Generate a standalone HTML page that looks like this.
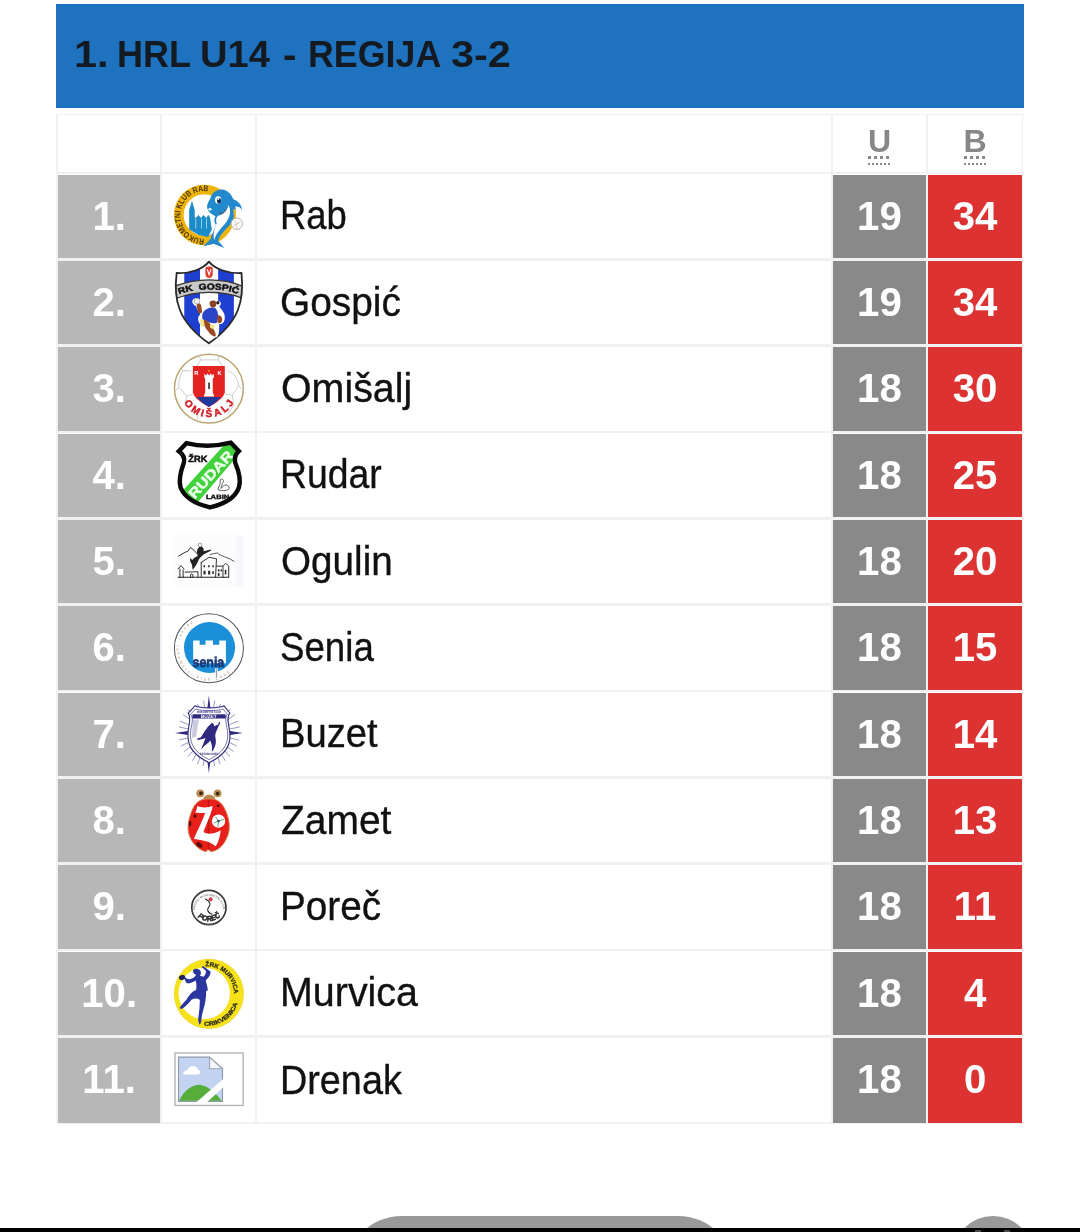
<!DOCTYPE html>
<html lang="hr"><head><meta charset="utf-8"><title>1. HRL U14 - REGIJA 3-2</title>
<style>
*{box-sizing:border-box}
html,body{margin:0;padding:0}
body{width:1080px;height:1232px;position:relative;overflow:hidden;background:#fff;font-family:"Liberation Sans",sans-serif;}
.abs{position:absolute}
#hdr{left:56.1px;top:4.3px;width:967.8px;height:103.7px;background:#1f72bd}
#title{left:0;top:34.4px;font-size:37.3px;font-weight:bold;color:#141a22;white-space:nowrap;line-height:40px}
#title span{position:absolute;top:0;left:0;transform-origin:0 50%;display:block}
.vl{position:absolute;top:113.7px;width:1.8px;height:1010.4px;background:#f1f1f4}
.hl{position:absolute;left:56.5px;width:967px;height:2.9px;background:#f1f1f4}
.rk{position:absolute;left:58px;width:102.3px;background:#b7b7b7;color:#fff;font-weight:bold;font-size:40.2px;text-align:center}
.u{position:absolute;left:833px;width:92.8px;background:#898989;color:#fff;font-weight:bold;font-size:40.2px;text-align:center}
.b{position:absolute;left:928.15px;width:93.9px;background:#dc3232;color:#fff;font-weight:bold;font-size:40.2px;text-align:center}
.nm{position:absolute;left:281px;font-size:40.5px;margin-top:-0.1px;color:#111;-webkit-text-stroke:0.35px #111;white-space:nowrap;transform-origin:0 50%}
.t{display:inline-block;transform-origin:50% 50%}
.lg{position:absolute;left:160px;overflow:hidden}
.lg text{font-family:"Liberation Sans",sans-serif;font-weight:bold;text-rendering:geometricPrecision}
.th{position:absolute;top:123.2px;height:36px;line-height:36px;font-weight:bold;font-size:32.1px;color:#878787;text-align:center}
.th abbr{text-decoration:none}
.d1{position:absolute;top:156.3px;height:3.2px;background:repeating-linear-gradient(90deg,#8b8b8b 0,#8b8b8b 2.8px,transparent 2.8px,transparent 6.1px)}
.d2{position:absolute;top:163px;height:2.4px;background:repeating-linear-gradient(90deg,#8b8b8b 0,#8b8b8b 2.1px,transparent 2.1px,transparent 4.05px)}
</style></head>
<body>
<div id="hdr" class="abs"></div>
<div id="title" class="abs"><span style="left:73.73px;transform:scaleX(1.1103)">1.</span> <span style="left:116.83px;transform:scaleX(0.9663)">HRL</span> <span style="left:200.32px;transform:scaleX(1.0207)">U14</span> <span style="left:282.52px;transform:scaleX(1.0862)">-</span> <span style="left:308.04px;transform:scaleX(0.9594)">REGIJA</span> <span style="left:451.29px;transform:scaleX(1.1090)">3-2</span> </div>
<div class="vl" style="left:56.3px"></div>
<div class="vl" style="left:160.3px"></div>
<div class="vl" style="left:255.3px"></div>
<div class="vl" style="left:831.3px"></div>
<div class="vl" style="left:926.3px"></div>
<div class="vl" style="left:1021.6px"></div>
<div class="hl" style="top:113.7px;height:1.6px"></div>
<div class="hl" style="top:171.60px"></div>
<div class="hl" style="top:257.93px"></div>
<div class="hl" style="top:344.26px"></div>
<div class="hl" style="top:430.59px"></div>
<div class="hl" style="top:516.92px"></div>
<div class="hl" style="top:603.25px"></div>
<div class="hl" style="top:689.58px"></div>
<div class="hl" style="top:775.91px"></div>
<div class="hl" style="top:862.24px"></div>
<div class="hl" style="top:948.57px"></div>
<div class="hl" style="top:1034.90px"></div>
<div class="hl" style="top:1122.40px;height:1.7px"></div>
<div class="th" style="left:833px;width:93px"><abbr title="Utakmice" class="ab">U</abbr></div>
<div class="th" style="left:928px;width:94px"><abbr title="Bodovi" class="ab">B</abbr></div>
<div class="d1" style="left:868px;width:21.3px"></div><div class="d2" style="left:868px;width:22.4px"></div>
<div class="d1" style="left:964px;width:21.3px"></div><div class="d2" style="left:964px;width:22.4px"></div>
<div class="rk" style="top:174.55px;height:83.5px;line-height:83.5px"><span class="t">1.</span></div>
<svg class="lg" style="top:174px" width="100" height="86" viewBox="0 0 1080 929"><circle cx="478" cy="443" r="275" fill="none" stroke="#efb40a" stroke-width="104"/>
<path id="rabp" d="M478 700 A257 257 0 1 1 478.1 700" fill="none"/>
<text font-size="90" fill="#4a3508"><textPath href="#rabp" startOffset="0" textLength="850" lengthAdjust="spacingAndGlyphs">RUKOMETNI KLUB RAB</textPath></text>
<path d="M315 600 L315 390 L345 290 L375 390 L375 470 L395 470 L415 440 L435 470 L450 470 L470 440 L492 470 L505 470 L520 440 L540 470 L560 600 L520 680 L420 660 Z" fill="#1b8cc8"/>
<path d="M383 480h8v110h-8zM443 480h8v110h-8zM497 480h8v110h-8z" fill="#bfe6f7"/>
<path d="M512 372 C500 330 528 292 545 262 C560 195 625 152 695 172 C745 186 775 228 792 272 C842 288 882 330 886 388 C862 352 836 346 814 352 C828 425 800 505 742 565 C692 618 645 662 628 722 L694 800 L578 754 L468 780 L546 702 C556 650 580 600 600 545 C585 520 580 490 600 455 C570 440 525 420 512 372 Z" fill="#2289cc"/>
<path d="M742 335 C772 410 752 480 702 538 C652 596 606 642 588 712 C566 650 590 585 612 535 C600 500 606 470 628 452 C680 440 722 400 742 335Z" fill="#fff"/>
<path d="M560 640 C575 600 590 570 600 545" fill="none" stroke="#fff" stroke-width="14"/>
<ellipse cx="628" cy="280" rx="34" ry="40" fill="#fff"/><ellipse cx="638" cy="288" rx="22" ry="30" fill="#0c2f4e"/>
<ellipse cx="632" cy="272" rx="9" ry="9" fill="#fff"/>
<ellipse cx="540" cy="382" rx="18" ry="14" fill="#e8f6ff"/>
<path d="M640 420 C670 435 700 420 715 380" fill="none" stroke="#7a2a2a" stroke-width="8"/>
<path d="M800 380 C815 440 810 470 800 500" fill="none" stroke="#efb40a" stroke-width="22"/>
<circle cx="830" cy="537" r="62" fill="#fdfdfd" stroke="#b8b0a0" stroke-width="10"/>
<path d="M800 500 L830 537 L870 520 M830 537 L825 590 M790 560 L830 537" fill="none" stroke="#c9c2b4" stroke-width="9"/>
</svg>
<div class="nm" style="top:174.55px;height:83.5px;line-height:83.5px;left:280.32px;transform:scaleX(0.8990)">Rab</div>
<div class="u" style="top:174.55px;height:83.5px;line-height:83.5px"><span class="t">19</span></div>
<div class="b" style="top:174.55px;height:83.5px;line-height:83.5px"><span class="t">34</span></div>
<div class="rk" style="top:260.88px;height:83.5px;line-height:83.5px"><span class="t">2.</span></div>
<svg class="lg" style="top:260px" width="100" height="86" viewBox="0 0 1080 929"><defs><clipPath id="gsc"><path d="M528 18 C470 95 330 150 180 140 C160 300 165 420 215 540 C270 680 400 810 528 900 C656 810 786 680 841 540 C891 420 896 300 880 140 C730 150 590 95 528 18 Z"/></clipPath></defs>
<path d="M528 18 C470 95 330 150 180 140 C160 300 165 420 215 540 C270 680 400 810 528 900 C656 810 786 680 841 540 C891 420 896 300 880 140 C730 150 590 95 528 18 Z" fill="#fff"/>
<g clip-path="url(#gsc)">
<rect x="262" y="0" width="170" height="929" fill="#1f3fd0"/>
<rect x="628" y="0" width="170" height="929" fill="#1f3fd0"/>
<path d="M150 285 C300 230 420 215 530 215 C650 215 780 235 910 290 L910 420 C780 365 650 350 530 350 C420 350 300 365 150 425 Z" fill="#c9c9c9" stroke="#333" stroke-width="14"/>
</g>
<path d="M528 18 C470 95 330 150 180 140 C160 300 165 420 215 540 C270 680 400 810 528 900 C656 810 786 680 841 540 C891 420 896 300 880 140 C730 150 590 95 528 18 Z" fill="none" stroke="#2b2b2b" stroke-width="20" stroke-linejoin="round"/>
<path id="gsp" d="M200 372 C320 325 430 318 530 318 C640 318 760 330 870 378" fill="none"/>
<text font-size="92" fill="#111" stroke="#111" stroke-width="5"><textPath href="#gsp" startOffset="5" textLength="650" lengthAdjust="spacingAndGlyphs">RK&#160;&#160;GOSPIĆ</textPath></text>
<path d="M490 95 Q490 70 530 70 Q570 70 570 95 L570 150 Q565 190 530 195 Q495 190 490 150Z" fill="#e03a2e"/>
<path d="M510 100 L530 160 L550 100" fill="none" stroke="#fff" stroke-width="12"/>
<path d="M350 440 C360 400 430 400 440 440 C450 470 440 500 460 520 C500 510 520 500 540 470 C540 430 600 420 620 440 C660 440 670 480 640 500 C660 540 700 560 700 620 C700 680 660 700 640 690 C640 740 640 790 620 830 C590 850 540 830 520 790 C480 760 440 740 430 690 C400 650 410 600 440 590 C420 560 400 540 390 500 C370 490 345 470 350 440Z" fill="#fff"/>
<path d="M470 560 C500 520 560 500 600 520 C630 560 640 620 610 680 C570 690 500 670 460 640 C450 610 455 585 470 560Z" fill="#2b45c8"/>
<path d="M395 490 C400 460 440 460 445 495 L455 560 C450 580 420 585 410 565Z" fill="#9a4a22"/>
<path d="M535 460 C540 435 590 430 605 455 C615 490 600 515 570 515 C545 510 535 490 535 460Z" fill="#8a4522"/>
<circle cx="625" cy="462" r="18" fill="#222"/>
<path d="M620 600 C650 590 680 620 670 660 C660 690 630 690 620 670Z" fill="#9a4a22"/>
<path d="M470 650 C500 640 540 680 560 720 C590 760 610 800 600 825 C570 830 540 800 520 770 C490 740 470 700 470 650Z" fill="#9a4a22"/>
<path d="M435 640 C460 630 480 660 480 700 C470 730 445 725 435 700Z" fill="#f2e48a"/>
<path d="M540 700 C560 690 590 700 590 730 C575 750 550 745 540 725Z" fill="#f2e48a"/>
<circle cx="400" cy="445" r="30" fill="#f4f4f4" stroke="#999" stroke-width="8"/>
</svg>
<div class="nm" style="top:260.88px;height:83.5px;line-height:83.5px;left:279.82px;transform:scaleX(0.9590)">Gospić</div>
<div class="u" style="top:260.88px;height:83.5px;line-height:83.5px"><span class="t">19</span></div>
<div class="b" style="top:260.88px;height:83.5px;line-height:83.5px"><span class="t">34</span></div>
<div class="rk" style="top:347.21px;height:83.5px;line-height:83.5px"><span class="t">3.</span></div>
<svg class="lg" style="top:346px" width="100" height="86" viewBox="0 0 1080 929"><circle cx="528" cy="460" r="372" fill="#fff" stroke="#b9a56f" stroke-width="16"/>
<g fill="none" stroke="#c8c8c8" stroke-width="10">
<path d="M440 150 L630 150 L690 250 M440 150 L375 250"/>
<path d="M250 260 C210 330 195 400 205 450 L290 540 L360 520"/>
<path d="M240 265 L340 270"/>
<path d="M730 265 C810 290 850 380 850 430 L780 530 L700 520"/>
<path d="M850 430 L895 480 M205 450 L165 480"/>
<path d="M290 540 L275 620 M780 530 L800 640 L740 720 M410 800 L400 740"/>
<path d="M640 100 L630 150 M440 150 L420 100"/>
</g>
<path d="M355 215 L700 215 L700 500 C690 560 600 620 528 658 C455 620 365 560 355 500 Z" fill="#e32222"/>
<path d="M398 552 L658 552 C620 600 570 635 528 658 C485 635 435 600 398 552 Z" fill="#1f3a9c"/>
<path d="M478 340 L478 300 L498 320 L512 295 L530 318 L548 295 L562 320 L582 300 L582 340 L570 355 L570 500 L585 545 L472 545 L488 500 L488 355 Z" fill="#fff"/>
<rect x="520" y="395" width="20" height="70" fill="#444"/>
<text x="370" y="312" font-size="62" fill="#fff">R</text>
<text x="622" y="312" font-size="62" fill="#fff">K</text>
<circle cx="528" cy="268" r="9" fill="#f3c020"/>
<path id="omp" d="M218 460 A310 310 0 0 0 838 460" fill="none"/>
<text font-size="108" fill="#d51f2a" stroke="#d51f2a" stroke-width="5" text-anchor="middle"><textPath href="#omp" startOffset="50%" textLength="655" lengthAdjust="spacing">OMIŠALJ</textPath></text>
</svg>
<div class="nm" style="top:347.21px;height:83.5px;line-height:83.5px;left:280.80px;transform:scaleX(0.9719)">Omišalj</div>
<div class="u" style="top:347.21px;height:83.5px;line-height:83.5px"><span class="t">18</span></div>
<div class="b" style="top:347.21px;height:83.5px;line-height:83.5px"><span class="t">30</span></div>
<div class="rk" style="top:433.54px;height:83.5px;line-height:83.5px"><span class="t">4.</span></div>
<svg class="lg" style="top:432px" width="100" height="86" viewBox="0 0 1080 929"><defs><clipPath id="rdc"><path d="M285 120 Q520 178 765 115 L852 207 Q795 260 812 330 C850 420 878 520 852 600 C810 720 680 782 540 814 C400 782 270 720 222 600 C198 520 225 420 258 330 Q275 260 203 207 Z"/></clipPath></defs>
<path d="M285 120 Q520 178 765 115 L852 207 Q795 260 812 330 C850 420 878 520 852 600 C810 720 680 782 540 814 C400 782 270 720 222 600 C198 520 225 420 258 330 Q275 260 203 207 Z" fill="#fff"/>
<g clip-path="url(#rdc)">
<path d="M720 110 L860 230 L390 780 L230 650 Z" fill="#3fd03a"/>
<text transform="translate(372 728) rotate(-47.5) scale(1.17 1)" font-size="150" fill="#eaffe8" stroke="#eaffe8" stroke-width="5">RUDAR</text>
</g>
<path d="M285 120 Q520 178 765 115 L852 207 Q795 260 812 330 C850 420 878 520 852 600 C810 720 680 782 540 814 C400 782 270 720 222 600 C198 520 225 420 258 330 Q275 260 203 207 Z" fill="none" stroke="#0a0a0a" stroke-width="48" stroke-linejoin="miter"/>
<text transform="translate(306 326) scale(1.02 1)" font-size="98" fill="#111" stroke="#111" stroke-width="5">ŽRK</text>
<text transform="translate(496 719) scale(1.22 1)" font-size="68" fill="#111" stroke="#111" stroke-width="4">LABIN</text>
<path d="M650 520 C655 500 690 505 685 535 C670 570 655 590 660 610 C690 560 740 560 750 610 C720 640 650 640 625 620 C635 580 660 560 650 520Z" fill="none" stroke="#555" stroke-width="10"/>
</svg>
<div class="nm" style="top:433.54px;height:83.5px;line-height:83.5px;left:280.15px;transform:scaleX(0.9219)">Rudar</div>
<div class="u" style="top:433.54px;height:83.5px;line-height:83.5px"><span class="t">18</span></div>
<div class="b" style="top:433.54px;height:83.5px;line-height:83.5px"><span class="t">25</span></div>
<div class="rk" style="top:519.87px;height:83.5px;line-height:83.5px"><span class="t">5.</span></div>
<svg class="lg" style="top:518px" width="100" height="86" viewBox="0 0 1080 929"><rect x="150" y="180" width="750" height="570" fill="#fcfcfd"/>
<rect x="815" y="190" width="85" height="550" fill="#f8f8fc"/>
<g fill="none" stroke="#222" stroke-width="10" stroke-linejoin="round" stroke-linecap="round">
<path d="M200 412 L270 370 L300 360 L330 318 L370 350 L400 385"/>
<path d="M540 395 L580 385 L620 378 L650 400 L700 420 L760 445 L800 468" stroke-width="8"/>
<path d="M195 640 L740 640" stroke-width="12"/>
<path d="M195 550 L225 515 L260 550 M215 550 L215 640 M250 560 L250 640"/>
<path d="M270 585 L410 580 L410 640 M330 640 L330 610 Q345 595 355 615 L355 640"/>
<path d="M445 480 L445 640 M445 480 L530 425 L610 440 L600 640"/>
<path d="M610 520 L680 520 L680 640 M680 520 L710 490 L742 520 L742 640"/>
</g>
<g fill="#222">
<rect x="470" y="510" width="16" height="22"/><rect x="520" y="510" width="16" height="22"/><rect x="565" y="510" width="16" height="22"/>
<rect x="470" y="570" width="22" height="40"/><rect x="520" y="570" width="22" height="40"/><rect x="565" y="575" width="16" height="30"/>
<rect x="625" y="555" width="18" height="22"/><rect x="655" y="555" width="14" height="22"/><rect x="625" y="595" width="18" height="30"/><rect x="700" y="560" width="16" height="50"/>
<path d="M430 310 C460 300 480 330 470 360 L548 340 L552 352 L470 395 C440 420 420 440 410 470 C395 510 370 540 352 560 L345 500 C330 480 322 460 325 435 L350 455 C360 430 390 420 408 410 C395 370 395 330 430 310Z"/>
</g>
<circle cx="432" cy="292" r="20" fill="#fff" stroke="#333" stroke-width="5"/>
</svg>
<div class="nm" style="top:519.87px;height:83.5px;line-height:83.5px;left:280.82px;transform:scaleX(0.9545)">Ogulin</div>
<div class="u" style="top:519.87px;height:83.5px;line-height:83.5px"><span class="t">18</span></div>
<div class="b" style="top:519.87px;height:83.5px;line-height:83.5px"><span class="t">20</span></div>
<div class="rk" style="top:606.20px;height:83.5px;line-height:83.5px"><span class="t">6.</span></div>
<svg class="lg" style="top:604px" width="100" height="86" viewBox="0 0 1080 929"><circle cx="528" cy="478" r="373" fill="#fff" stroke="#4e5660" stroke-width="11"/>
<path id="snp" d="M340 186 A348 348 0 1 0 850 610" fill="none"/>
<text font-size="42" fill="#a98468" style="font-weight:normal"><textPath href="#snp" startOffset="0" textLength="1180" lengthAdjust="spacing">ženski rukometni klub 2005.</textPath></text>
<circle cx="535" cy="470" r="276" fill="#1b8fd8"/>
<path d="M358 395 L428 395 L428 440 L492 440 L492 395 L572 395 L572 440 L640 440 L640 395 L712 395 L712 640 L358 640 Z" fill="#fcfeff"/>
<text transform="translate(352 682) scale(0.88 1)" font-size="152" fill="#1d3a78" stroke="#1d3a78" stroke-width="8">senia</text>
<rect x="600" y="700" width="22" height="100" fill="#9aa0a8" stroke="#fff" stroke-width="8"/>
</svg>
<div class="nm" style="top:606.20px;height:83.5px;line-height:83.5px;left:280.13px;transform:scaleX(0.9057)">Senia</div>
<div class="u" style="top:606.20px;height:83.5px;line-height:83.5px"><span class="t">18</span></div>
<div class="b" style="top:606.20px;height:83.5px;line-height:83.5px"><span class="t">15</span></div>
<div class="rk" style="top:692.53px;height:83.5px;line-height:83.5px"><span class="t">7.</span></div>
<svg class="lg" style="top:690px" width="100" height="86" viewBox="0 0 1080 929"><g stroke="#2f2a80" stroke-linecap="butt">
<g stroke-width="7" opacity="0.75">
<path d="M528 465 L405 150 M528 465 L470 115 M528 465 L592 115 M528 465 L655 150"/>
<path d="M528 465 L250 265 M528 465 L215 335 M528 465 L205 400 M528 465 L810 265 M528 465 L845 335 M528 465 L860 400"/>
<path d="M528 465 L205 540 M528 465 L225 605 M528 465 L260 665 M528 465 L300 720 M528 465 L350 765 M528 465 L405 800 M528 465 L465 820"/>
<path d="M528 465 L850 540 M528 465 L830 605 M528 465 L795 665 M528 465 L755 720 M528 465 L705 765 M528 465 L650 800 M528 465 L590 820"/>
<path d="M528 465 L300 205 M528 465 L760 205"/>
</g>
</g>
<path d="M528 60 L545 200 L511 200Z M528 900 L545 760 L511 760Z M160 465 L320 440 L320 490Z M895 465 L740 440 L740 490Z" fill="#2f2a80"/>
<path d="M380 170 C430 200 630 200 690 170 L755 250 C720 290 735 340 745 400 C790 600 700 700 530 785 C360 700 270 600 310 400 C320 340 335 290 305 250 Z" fill="#fff" stroke="#2f2a80" stroke-width="12"/>
<path d="M385 205 C440 228 620 228 680 205 L728 262 C700 300 712 345 722 400 C760 585 680 675 530 752 C380 675 300 585 338 400 C348 345 360 300 330 262 Z" fill="none" stroke="#2f2a80" stroke-width="7"/>
<path d="M352 262 L708 262 L712 308 L348 308 Z" fill="#2f2a80"/>
<text x="440" y="303" font-size="50" fill="#fff" textLength="172" lengthAdjust="spacingAndGlyphs">BUZET</text>
<text x="400" y="245" font-size="34" fill="#2f2a80" textLength="260" lengthAdjust="spacingAndGlyphs">RUKOMETNI KLUB</text>
<path d="M540 365 C560 340 590 350 590 380 L625 365 C620 345 640 330 655 345 C660 365 650 380 640 390 L620 440 C600 470 600 500 610 540 C615 590 590 640 570 670 L550 665 C560 620 555 590 540 560 C520 590 480 600 460 640 L435 650 C450 600 470 560 480 530 C450 540 420 550 400 545 C390 520 410 505 430 510 C460 480 470 440 500 410 C510 390 525 380 540 365Z" fill="#2f2a80" stroke="#fff" stroke-width="14" paint-order="normal"/>
<text x="432" y="700" font-size="34" fill="#2f2a80" textLength="200" lengthAdjust="spacingAndGlyphs">ESTABLISHED</text>
<path d="M355 320 L420 320 L390 500 L345 520Z" fill="#2f2a80" opacity="0.25"/>
</svg>
<div class="nm" style="top:692.53px;height:83.5px;line-height:83.5px;left:280.09px;transform:scaleX(0.9426)">Buzet</div>
<div class="u" style="top:692.53px;height:83.5px;line-height:83.5px"><span class="t">18</span></div>
<div class="b" style="top:692.53px;height:83.5px;line-height:83.5px"><span class="t">14</span></div>
<div class="rk" style="top:778.86px;height:83.5px;line-height:83.5px"><span class="t">8.</span></div>
<svg class="lg" style="top:776px" width="100" height="86" viewBox="0 0 1080 929"><path d="M465 255 C470 185 590 185 600 255 Z" fill="#b88a4c"/>
<circle cx="435" cy="187" r="42" fill="#b88a4c"/><circle cx="622" cy="187" r="42" fill="#b88a4c"/>
<circle cx="443" cy="187" r="20" fill="#3a2a14"/><circle cx="622" cy="190" r="20" fill="#3a2a14"/>
<path d="M528 248 C420 240 370 300 335 400 C290 520 290 620 350 710 C400 780 470 820 500 815 L520 790 L545 815 C590 820 660 780 700 710 C765 610 760 500 715 390 C680 300 630 240 528 248 Z" fill="#e8201c" stroke="#c98a50" stroke-width="10"/>
<path d="M522 260 L522 800" stroke="#a01010" stroke-width="8" fill="none"/>
<g fill="#5a0c0c">
<circle cx="378" cy="432" r="18"/><ellipse cx="325" cy="515" rx="14" ry="32"/><circle cx="628" cy="322" r="15"/><ellipse cx="425" cy="745" rx="38" ry="24" transform="rotate(35 425 745)"/>
</g>
<path d="M400 325 C440 345 520 345 568 325 C560 400 500 520 470 605 C520 640 600 620 655 585 C650 650 630 720 600 760 C540 700 430 690 365 680 C400 600 460 480 488 400 C450 400 410 400 380 395 C395 370 400 350 400 325 Z" fill="#fdfdfd"/>
<circle cx="632" cy="487" r="72" fill="#fff"/>
<path d="M632 487 L600 440 M632 487 L690 470 M632 487 L625 550 M632 487 L580 510" stroke="#4a8a80" stroke-width="9" fill="none"/>
<circle cx="632" cy="487" r="14" fill="#2a5a55"/>
</svg>
<div class="nm" style="top:778.86px;height:83.5px;line-height:83.5px;left:280.81px;transform:scaleX(0.9616)">Zamet</div>
<div class="u" style="top:778.86px;height:83.5px;line-height:83.5px"><span class="t">18</span></div>
<div class="b" style="top:778.86px;height:83.5px;line-height:83.5px"><span class="t">13</span></div>
<div class="rk" style="top:865.19px;height:83.5px;line-height:83.5px"><span class="t">9.</span></div>
<svg class="lg" style="top:862px" width="100" height="86" viewBox="0 0 1080 929"><circle cx="528" cy="492" r="185" fill="#fff" stroke="#3a3a3c" stroke-width="18"/>
<path id="pop" d="M378 520 A152 152 0 0 1 682 520" fill="none"/>
<text font-size="34" fill="#8a8a8a"><textPath href="#pop" startOffset="0" textLength="470" lengthAdjust="spacingAndGlyphs">ŽENSKI RUKOMETNI KLUB</textPath></text>
<circle cx="547" cy="402" r="22" fill="#d8404a"/>
<path d="M490 400 C515 410 535 430 540 450 C545 480 510 490 515 520 C520 545 545 560 560 565" fill="none" stroke="#222" stroke-width="11" stroke-linecap="round"/>
<path id="pop2" d="M400 592 Q525 690 662 585" fill="none"/>
<text font-size="80" fill="#222" stroke="#222" stroke-width="5" font-style="italic"><textPath href="#pop2" startOffset="8" textLength="270" lengthAdjust="spacingAndGlyphs">POREČ</textPath></text>
<path d="M490 672 L570 672" stroke="#555" stroke-width="10"/>
</svg>
<div class="nm" style="top:865.19px;height:83.5px;line-height:83.5px;left:280.05px;transform:scaleX(0.9547)">Poreč</div>
<div class="u" style="top:865.19px;height:83.5px;line-height:83.5px"><span class="t">18</span></div>
<div class="b" style="top:865.19px;height:83.5px;line-height:83.5px"><span class="t">11</span></div>
<div class="rk" style="top:951.52px;height:83.5px;line-height:83.5px"><span class="t">10.</span></div>
<svg class="lg" style="top:948px" width="100" height="86" viewBox="0 0 1080 929"><circle cx="528" cy="495" r="375" fill="#f7e21a"/>
<circle cx="528" cy="495" r="375" fill="none" stroke="#e9d21a" stroke-width="6"/>
<circle cx="478" cy="490" r="278" fill="#fff"/>
<path id="mvp1" d="M489.6 198.4 A294 294 0 0 1 797.9 517.6" fill="none"/>
<text font-size="66" fill="#2b2b1a" stroke="#2b2b1a" stroke-width="3"><textPath href="#mvp1" startOffset="0" textLength="478" lengthAdjust="spacingAndGlyphs">ŽRK MURVICA</textPath></text>
<path id="mvp2" d="M475 838 A345 345 0 0 0 835 610" fill="none"/>
<text font-size="64" fill="#2b2b1a" stroke="#2b2b1a" stroke-width="3"><textPath href="#mvp2" startOffset="0" textLength="470" lengthAdjust="spacingAndGlyphs">CRIKVENICA</textPath></text>
<path d="M355 245 C375 215 425 220 440 255 C445 275 440 290 432 300 L470 310 C490 290 500 270 495 245 L450 205 L465 195 L545 255 C550 290 520 330 495 350 C500 390 520 430 515 460 L498 465 C500 520 490 600 470 660 C455 720 445 760 445 800 L430 830 C415 810 410 780 415 745 C425 680 430 620 430 560 C400 540 370 540 340 560 C310 600 270 640 235 660 L210 650 C225 620 260 590 285 560 C310 520 340 470 390 455 C395 420 395 380 385 350 C350 370 320 385 290 380 C275 365 270 350 265 335 C235 350 205 330 210 310 C225 290 260 300 275 320 C295 345 330 340 360 325 C375 310 385 300 390 290 C370 280 355 265 355 245 Z" fill="#2a35a0"/>
<ellipse cx="238" cy="318" rx="34" ry="26" fill="#1c2360" transform="rotate(-20 238 318)"/>
</svg>
<div class="nm" style="top:951.52px;height:83.5px;line-height:83.5px;left:279.99px;transform:scaleX(0.9732)">Murvica</div>
<div class="u" style="top:951.52px;height:83.5px;line-height:83.5px"><span class="t">18</span></div>
<div class="b" style="top:951.52px;height:83.5px;line-height:83.5px"><span class="t">4</span></div>
<div class="rk" style="top:1037.85px;height:84.8px;line-height:84.8px"><span class="t">11.</span></div>
<svg class="lg" style="top:1034px" width="100" height="86" viewBox="0 0 1080 929"><rect x="162" y="205" width="736" height="567" fill="#fff" stroke="#b4b4b4" stroke-width="15"/>
<path d="M200 250 L535 250 L675 375 L675 728 L200 728 Z" fill="#c3d4f3" stroke="#8f98ab" stroke-width="12"/>
<path d="M535 250 L535 375 L675 375 Z" fill="#f4f6fb" stroke="#9ba3b3" stroke-width="12" stroke-linejoin="round"/>
<path d="M250 430 C250 400 290 395 300 380 C320 335 400 335 410 385 C440 390 440 430 410 438 L260 438 Z" fill="#fff"/>
<path d="M207 722 C260 600 370 540 440 550 C520 560 600 640 668 722 Z" fill="#56ad3a"/>
<path d="M395 735 L690 480 L690 570 L510 735 Z" fill="#fff"/>
</svg>
<div class="nm" style="top:1037.85px;height:84.8px;line-height:84.8px;left:280.12px;transform:scaleX(0.9328)">Drenak</div>
<div class="u" style="top:1037.85px;height:84.8px;line-height:84.8px"><span class="t">18</span></div>
<div class="b" style="top:1037.85px;height:84.8px;line-height:84.8px"><span class="t">0</span></div>
<div class="abs" style="left:345px;top:1216.3px;width:390px;height:114px;border-radius:57px;background:#999"></div>
<div class="abs" style="left:953px;top:1216.1px;width:80px;height:80px;border-radius:40px;background:#999"></div>
<div class="abs" style="left:0;top:1227.7px;width:1080px;height:5px;background:#000"></div>
<div class="abs" style="left:975px;top:1230.3px;width:6px;height:2px;background:#4a4a4a"></div><div class="abs" style="left:1004px;top:1230.3px;width:6px;height:2px;background:#4a4a4a"></div>
</body></html>
